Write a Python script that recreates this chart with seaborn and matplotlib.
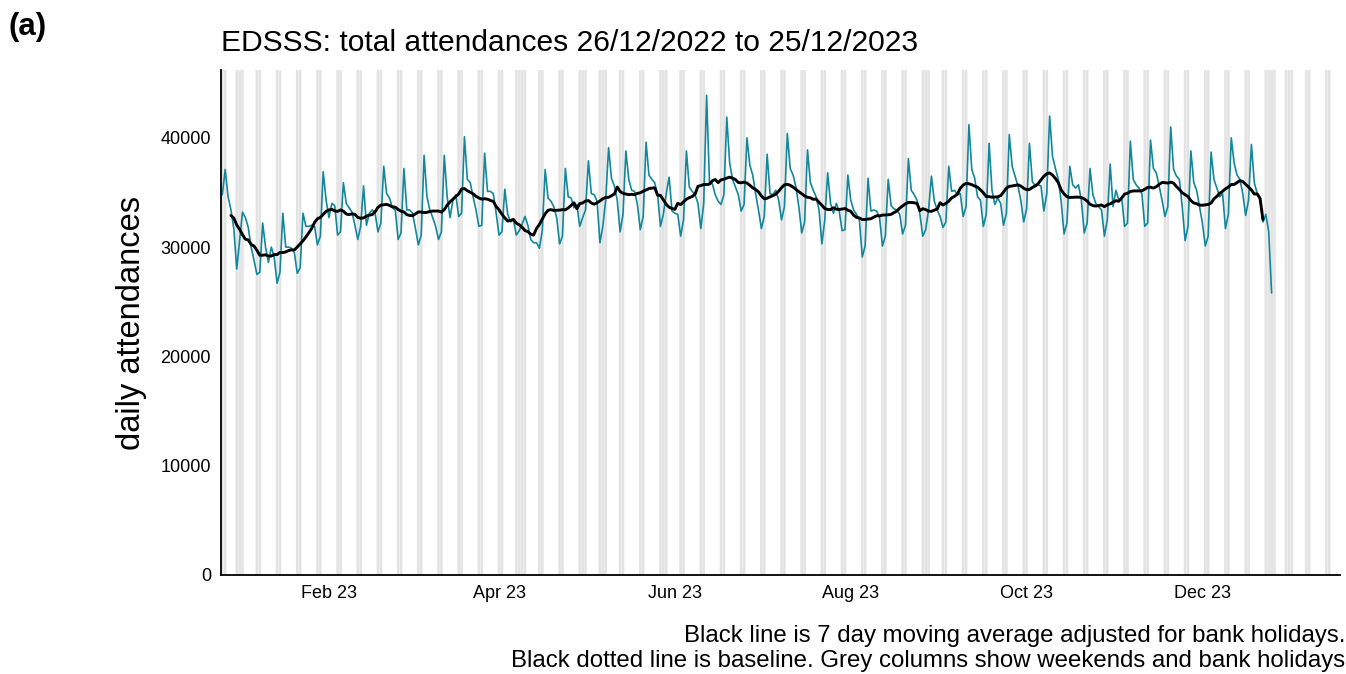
import pandas as pd
import numpy as np
import matplotlib
matplotlib.use("Agg")
import matplotlib.pyplot as plt
import seaborn as sns

# daily attendances from 26/12/2022 (a Monday), one row per week Mon..Sun
start_date = "2022-12-26"
attendances = [
    34800, 37100, 34600, 33400, 31700, 28000, 30600,
    33200, 32700, 31800, 30000, 28800, 27500, 27700,
    32200, 30000, 28600, 30000, 29100, 26700, 27700,
    33100, 30000, 30000, 29900, 29500, 27600, 28100,
    33100, 31900, 31900, 32000, 31900, 30200, 31000,
    36900, 34300, 32700, 34000, 33800, 31100, 31400,
    35900, 34000, 33600, 33200, 32000, 30700, 31900,
    35600, 32000, 33100, 33400, 33100, 31400, 32200,
    37400, 34900, 34500, 33600, 33400, 30700, 31300,
    37200, 33400, 33400, 33100, 31700, 30200, 31100,
    38400, 34600, 33400, 32700, 31900, 30700, 31400,
    38400, 34600, 32700, 34300, 34800, 32800, 33100,
    40100, 36200, 35900, 34600, 33400, 31900, 32000,
    38600, 35100, 35100, 34900, 33100, 31100, 31400,
    35300, 33000, 32300, 32500, 31100, 31500, 32100,
    32800, 32000, 30700, 30400, 30400, 29900, 31500,
    37100, 34500, 34200, 33700, 32700, 30300, 31000,
    37200, 34600, 34500, 33600, 33900, 31900, 32700,
    33400, 37900, 34900, 34800, 34200, 30400, 31900,
    34300, 39100, 36300, 35600, 34300, 31400, 33000,
    38800, 36200, 35200, 35100, 33900, 31600, 32800,
    39600, 36600, 36200, 35900, 34800, 31900, 33000,
    34900, 36400, 33300, 33100, 33000, 31000, 32500,
    38800, 35500, 35100, 34800, 34000, 31700, 34000,
    43900, 35900, 35800, 34800, 34200, 33900, 34800,
    41900, 37700, 36200, 35500, 34800, 33300, 33900,
    40000, 37500, 36600, 34900, 33400, 31700, 32800,
    38500, 34900, 34800, 35200, 34300, 32500, 33700,
    40400, 37200, 36600, 35500, 33700, 31300, 32300,
    38900, 35900, 35200, 34600, 33400, 30300, 32500,
    36800, 34000, 33100, 34000, 33300, 31500, 31600,
    36600, 34300, 33400, 33000, 32500, 29100, 30100,
    36300, 33300, 33400, 33300, 32700, 30100, 31000,
    36200, 33800, 33500, 33400, 33000, 31200, 32000,
    38100, 35200, 34800, 34300, 33000, 31000, 31600,
    33400, 36500, 34200, 33400, 32800, 31800, 32300,
    37400, 35100, 35200, 34800, 34900, 32800, 33700,
    41200, 37100, 36300, 34600, 34300, 31900, 33000,
    39500, 35200, 33900, 34500, 34000, 32000, 33100,
    40300, 37400, 36500, 35600, 34300, 32300, 33500,
    39500, 36000, 35600, 35700, 35600, 33300, 34900,
    42000, 38300, 37200, 36200, 34200, 31200, 32200,
    37400, 35700, 35400, 35700, 34300, 31300, 32200,
    37200, 34800, 34000, 33700, 33400, 31000, 32500,
    37600, 33700, 35200, 34300, 34500, 31900, 32200,
    39700, 36200, 35700, 35400, 34900, 31900, 32200,
    39800, 37200, 36800, 35600, 34300, 32800, 33700,
    41000, 37100, 36500, 36200, 33700, 30600, 31900,
    38800, 35900, 35200, 33700, 32200, 30100, 31000,
    38700, 36200, 35400, 34600, 34900, 31700, 33000,
    40000, 37700, 36600, 36200, 34900, 32900, 34300,
    39400, 35900, 34900, 34300, 32300, 33000, 31400,
    25800,
]

bank_holidays = ["2022-12-26", "2022-12-27", "2023-01-02", "2023-04-07",
                 "2023-04-10", "2023-05-01", "2023-05-08", "2023-05-29",
                 "2023-08-28", "2023-12-25", "2023-12-26", "2024-01-01"]
shade_end = "2024-01-14"

tick_dates = ["2023-02-01", "2023-04-01", "2023-06-01", "2023-08-01", "2023-10-01", "2023-12-01"]
tick_labels = ["Feb 23", "Apr 23", "Jun 23", "Aug 23", "Oct 23", "Dec 23"]
y_ticks = [0, 10000, 20000, 30000, 40000]

sns.set_theme(style="white")
plt.rcParams['font.family'] = ['Liberation Sans', 'DejaVu Sans']
plt.rcParams['text.color'] = 'black'
plt.rcParams['axes.labelcolor'] = 'black'

df = pd.DataFrame({
    'date': pd.date_range(start_date, periods=len(attendances), freq='D'),
    'attendances': attendances,
})
# 7 day centred moving average
df['ma7'] = df['attendances'].rolling(7, center=True).mean()

all_days = pd.date_range(start_date, shade_end, freq='D')
shade_days = all_days[(all_days.dayofweek >= 5) | all_days.isin(pd.to_datetime(bank_holidays))]

y_top = 46200
fig = plt.figure(figsize=(13.46, 6.74), dpi=100)
ax = fig.add_axes([0.164, 0.147, 0.8315, 0.749])

bars = ax.bar(shade_days, y_top, width=0.9, color='#E3E3E3', zorder=0, linewidth=0)
for b in bars:
    b.set_snap(False)
sns.lineplot(data=df, x='date', y='attendances', color='#12879C', linewidth=1.2, ax=ax)
sns.lineplot(data=df.dropna(), x='date', y='ma7', color='black', linewidth=2.1, ax=ax)

ax.set_xlim(pd.Timestamp("2022-12-25 11:00"), pd.Timestamp("2024-01-17 17:00"))
ax.set_ylim(0, y_top)
ax.set_xticks(pd.to_datetime(tick_dates))
ax.set_xticklabels(tick_labels)
ax.set_yticks(y_ticks)
ax.set_yticklabels([str(v) for v in y_ticks])
ax.tick_params(axis='both', length=4, width=1.1, color='#333333', labelsize=13,
               labelcolor='black', pad=3)

for side in ['top', 'right']:
    ax.spines[side].set_visible(False)
for side in ['left', 'bottom']:
    ax.spines[side].set_color('black')
    ax.spines[side].set_linewidth(1.3)

ax.set_xlabel('')
ax.set_ylabel('daily attendances', fontsize=23.5, labelpad=10)
ax.set_title('EDSSS: total attendances 26/12/2022 to 25/12/2023', fontsize=21.6,
             loc='left', pad=14, color='black')

fig.text(0.006, 0.982, '(a)', fontsize=22.5, fontweight='bold', ha='left', va='top')
fig.text(0.9995, 0.003,
         'Black line is 7 day moving average adjusted for bank holidays.\n'
         'Black dotted line is baseline. Grey columns show weekends and bank holidays',
         fontsize=17.3, ha='right', va='bottom', linespacing=1.2)

fig.savefig('out.png', dpi=100)
